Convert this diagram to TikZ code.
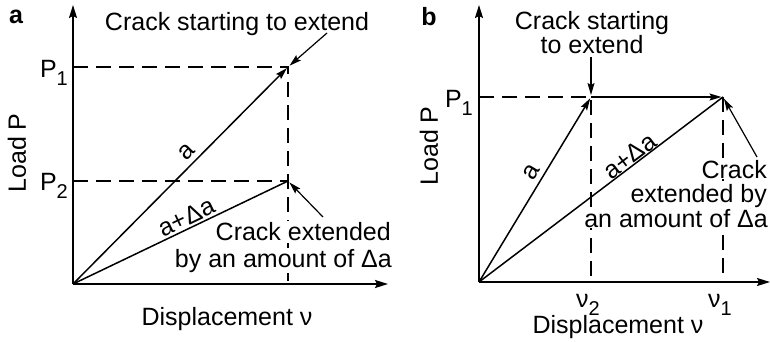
\documentclass[tikz,border=0pt]{standalone}
\usepackage{fontspec}
\setmainfont{Liberation Sans}
\usetikzlibrary{arrows.meta,positioning,calc}
\newcommand{\lowidx}[1]{\raisebox{-.32em}{\fontsize{20}{20}\selectfont #1}}
\tikzset{
  axis/.style ={line width=1.9pt,-{Stealth[length=13pt,width=8pt,inset=2pt]}},
  guide/.style={line width=1.6pt,dash pattern=on 15pt off 8pt},
  load/.style ={line width=1.5pt},
  ar/.style   ={-{Stealth[length=12pt,width=7pt,inset=2pt]},shorten >=1.5pt},
  note/.style ={line width=1.2pt,-{Stealth[length=12pt,width=7pt,inset=2pt]},shorten >=2pt},
  txt/.style  ={font=\fontsize{25}{27}\selectfont,inner sep=0pt},
  memo/.style ={txt,anchor=base east,fill=white,inner ysep=1pt},
  lbl/.style  ={font=\fontsize{25}{27}\selectfont,inner sep=0pt,sloped},
  tag/.style  ={font=\fontsize{25}{27}\selectfont\bfseries,inner sep=0pt},
}
\begin{document}
\begin{tikzpicture}[x=1pt,y=1pt]
  \useasboundingbox (0,0) rectangle (771,341);
  % panel a
  \coordinate (Oa) at (73,57);
  \coordinate (ya) at (73,336);
  \coordinate (xa) at (388,57);
  \coordinate (C1) at (288,274);
  \coordinate (C2) at (288,160);
  \node[tag] (ka) at (16,324) {a};
  \draw[guide] (Oa |- C1) -- (C1) -- (Oa -| C1);
  \draw[guide] (Oa |- C2) -- (C2);
  \draw[axis] (Oa) -- (ya);
  \draw[axis] (Oa) -- (xa);
  \node[memo] (ma1) at (391,101) {Crack extended};
  \node[memo] (ma2) at ($(ma1.base east)+(1,-27)$) {by an amount of Δa};
  \draw[load,ar] (Oa) -- node[lbl,pos=.57,above=5pt]{a} (C1);
  \draw[load] (Oa) -- node[lbl,pos=.55,above=2pt]{a+Δa} (C2);
  \node[txt,anchor=base east] (p1a) at (68,264) {P\lowidx{1}};
  \node[txt,anchor=base east] (p2a) at (68,151) {P\lowidx{2}};
  \node[txt,rotate=90] (lda) at (17,188) {Load P};
  \node[txt,anchor=base] (dxa) at (227,16) {Displacement ν};
  \node[txt,anchor=base] (na) at (237,310) {Crack starting to extend};
  \coordinate (na-t) at (327,308);
  \coordinate (ma-t) at (323,124);
  \draw[note] (na-t) -- (C1);
  \draw[note] (ma-t) -- (C2);
  % panel b
  \coordinate (Ob) at (479,59);
  \coordinate (yb) at (479,336);
  \coordinate (xb) at (770,59);
  \coordinate (Q2) at (591,244);
  \coordinate (Q1) at (723,244);
  \node[tag] (kb) at (429,324) {b};
  \draw[guide] (Ob |- Q2) -- (Q2) -- (Ob -| Q2);
  \draw[guide] (Q1) -- (Ob -| Q1);
  \draw[axis] (Ob) -- (yb);
  \draw[axis] (Ob) -- (xb);
  \node[memo] (mb1) at (767,163) {Crack};
  \node[memo] (mb2) at ($(mb1.base east)+(0,-24.5)$) {extended by};
  \node[memo] (mb3) at ($(mb2.base east)+(1,-24.5)$) {an amount of Δa};
  \draw[load,ar] (Ob) -- node[lbl,pos=.56,above=4pt]{a} (Q2);
  \draw[load] (Ob) -- node[lbl,pos=.64,above=0pt]{a+Δa} (Q1);
  \draw[load,ar] (Q2) -- (Q1);
  \node[txt,anchor=base east] (p1b) at (473,234) {P\lowidx{1}};
  \node[txt,anchor=base] (v2) at (588,34) {ν\lowidx{2}};
  \node[txt,anchor=base] (v1) at (720,34) {ν\lowidx{1}};
  \node[txt,rotate=90] (ldb) at (429,195) {Load P};
  \node[txt,anchor=base] (dxb) at (618,8) {Displacement ν};
  \node[txt,align=center,anchor=north,font=\fontsize{25}{22}\selectfont] (nb) at (592,330) {Crack starting\\to extend};
  \coordinate (nb-t) at (591,284);
  \coordinate (mb-t) at (757,184);
  \draw[note] (nb-t) -- (Q2);
  \draw[note] (mb-t) -- (Q1);
\end{tikzpicture}
\end{document}
